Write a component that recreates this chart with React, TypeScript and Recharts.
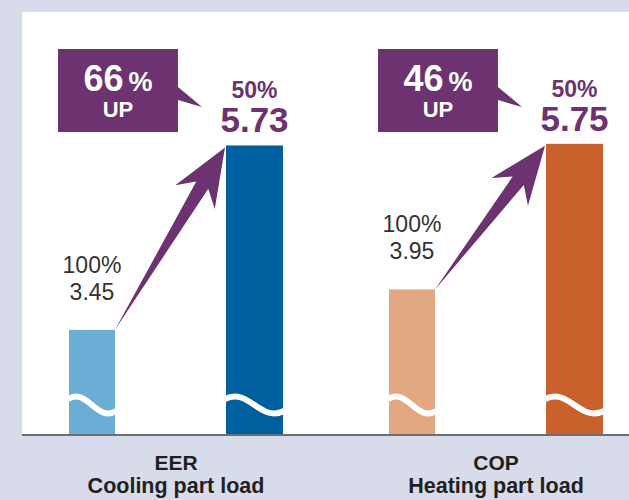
import { BarChart, Bar, XAxis, YAxis, CartesianGrid } from 'recharts'

const categories = ['EER', 'COP']
const loadNames = ['Cooling part load', 'Heating part load']
const fullLoadValues = [3.45, 3.95]
const partLoadValues = [5.73, 5.75]
const gainPercents = [66, 46]
const fullLoadShare = '100%'
const partLoadShare = '50%'

const Y_MIN = 2.15
const Y_MAX = 7.38
const GAP = 111
const PURPLE = '#6D3270'
const FONT = '"Liberation Sans", Arial, Helvetica, sans-serif'
const lightColors = ['#6AAED6', '#E2A882']
const darkColors = ['#005F9E', '#CA602C']

const data = categories.map((name, i) => ({
  name,
  full: fullLoadValues[i],
  part: partLoadValues[i],
  gain: gainPercents[i],
  idx: i,
}))

// white "~" break drawn across a bar
const Wave = ({ x, width, yc }: { x: number; width: number; yc: number }) => (
  <path
    d={`M${x - 1},${yc - 6} C${x + width * 0.4},${yc - 18} ${x + width * 0.6},${yc + 18} ${x + width + 1},${yc + 6}`}
    stroke="#fff"
    strokeWidth={6}
    fill="none"
  />
)

const FullLoadBar = (props: any) => {
  const { x, y, width, height, payload } = props
  const cx = x + width / 2
  const bottom = y + height
  // callout box
  const bx = x - 11
  const by = 49
  const bw = 120
  const bh = 83
  return (
    <g>
      <rect x={x} y={y} width={width} height={height} fill={lightColors[payload.idx]} />
      <Wave x={x} width={width} yc={bottom - 30} />
      <text x={cx} y={y - 57} textAnchor="middle" fontSize={23} fill="#333" fontFamily={FONT}>
        {fullLoadShare}
      </text>
      <text x={cx} y={y - 30} textAnchor="middle" fontSize={23} fill="#333" fontFamily={FONT}>
        {payload.full.toFixed(2)}
      </text>
      <rect x={bx} y={by} width={bw} height={bh} fill={PURPLE} />
      <polygon
        points={`${bx + bw},${by + 38} ${bx + bw + 24},${by + 58} ${bx + bw},${by + 51}`}
        fill={PURPLE}
      />
      <text x={bx + bw / 2} y={by + 42} textAnchor="middle" fill="#fff" fontFamily={FONT} fontWeight="bold">
        <tspan fontSize={36}>{payload.gain}</tspan>
        <tspan fontSize={27} dx={5}>%</tspan>
      </text>
      <text x={bx + bw / 2} y={by + 68} textAnchor="middle" fill="#fff" fontFamily={FONT} fontWeight="bold" fontSize={22}>
        UP
      </text>
    </g>
  )
}

const PartLoadBar = (props: any) => {
  const { x, y, width, height, payload } = props
  const cx = x + width / 2
  const bottom = y + height
  // arrow from top of the full load bar to this bar
  const ppu = height / (payload.part - Y_MIN)
  const tx = x - GAP
  const ty = y + (payload.part - payload.full) * ppu
  const hx = x - 1
  const hy = y + 2
  const len = Math.hypot(hx - tx, hy - ty)
  const ux = (hx - tx) / len
  const uy = (hy - ty) / len
  const nx = -uy
  const ny = ux
  const pt = (back: number, side: number) => `${hx - ux * back + nx * side},${hy - uy * back + ny * side}`
  const arrow = [
    `${hx},${hy}`,
    pt(58, 23),
    pt(44, 7),
    `${tx},${ty}`,
    pt(44, -7),
    pt(58, -23),
  ].join(' ')
  return (
    <g>
      <rect x={x} y={y} width={width} height={height} fill={darkColors[payload.idx]} />
      <Wave x={x} width={width} yc={bottom - 30} />
      <polygon points={arrow} fill={PURPLE} />
      <text x={cx} y={y - 47} textAnchor="middle" fontSize={23} fontWeight="bold" fill={PURPLE} fontFamily={FONT}>
        {partLoadShare}
      </text>
      <text x={cx} y={y - 13} textAnchor="middle" fontSize={35} fontWeight="bold" fill={PURPLE} fontFamily={FONT}>
        {payload.part.toFixed(2)}
      </text>
    </g>
  )
}

const CategoryTick = (props: any) => {
  const { x, y, payload } = props
  const i = categories.indexOf(payload.value)
  return (
    <g>
      <text x={x} y={y + 35} textAnchor="middle" fontSize={21} fontWeight="bold" fill="#231F20" fontFamily={FONT}>
        {payload.value}
      </text>
      <text x={x} y={y + 58} textAnchor="middle" fontSize={21.5} fontWeight="bold" fill="#231F20" fontFamily={FONT}>
        {loadNames[i]}
      </text>
    </g>
  )
}

export default function App() {
  return (
    <div
      style={{
        position: 'absolute',
        left: 0,
        top: 0,
        width: 629,
        height: 500,
        overflow: 'hidden',
        background: '#D8DBE9',
      }}
    >
      <BarChart
        width={629}
        height={500}
        data={data}
        barGap={GAP}
        margin={{ top: 12, right: 0, left: 22, bottom: 0 }}
      >
        <CartesianGrid fill="#fff" horizontal={false} vertical={false} />
        <XAxis
          dataKey="name"
          height={65}
          padding={{ left: -6, right: -27 }}
          axisLine={{ stroke: '#6D6E71', strokeWidth: 2 }}
          tickLine={false}
          tickSize={0}
          tickMargin={0}
          interval={0}
          tick={<CategoryTick />}
        />
        <YAxis
          type="number"
          domain={[Y_MIN, Y_MAX]}
          allowDataOverflow
          width={0}
          tick={false}
          tickLine={false}
          axisLine={{ stroke: '#7A7A7C', strokeWidth: 2.5 }}
        />
        <Bar dataKey="full" barSize={46} shape={<FullLoadBar />} isAnimationActive={false} />
        <Bar dataKey="part" barSize={57} shape={<PartLoadBar />} isAnimationActive={false} />
      </BarChart>
    </div>
  )
}
